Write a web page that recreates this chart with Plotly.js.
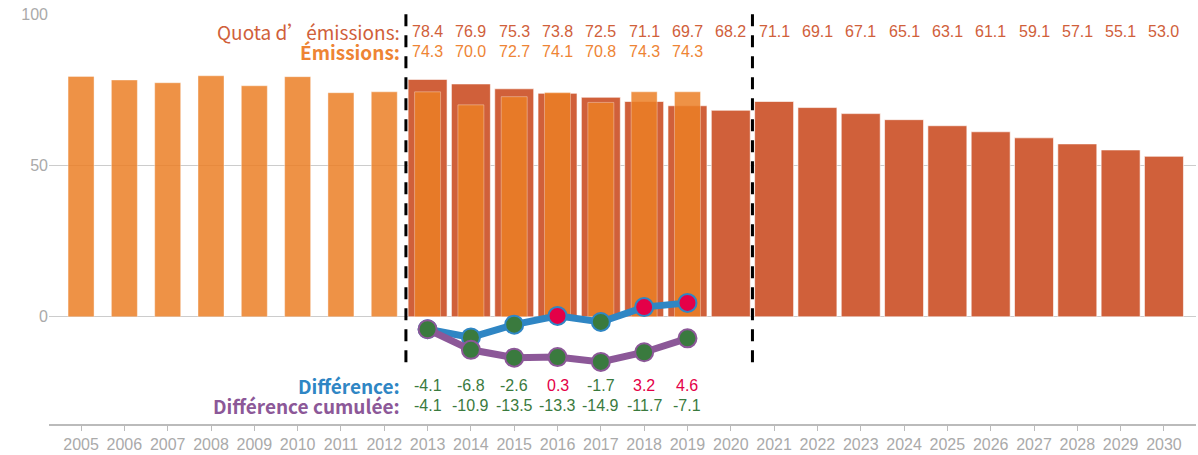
<!DOCTYPE html>
<html>
<head>
<meta charset="utf-8">
<script src="https://cdn.plot.ly/plotly-3.0.1.min.js"></script>
<style>html,body{margin:0;padding:0;background:#fff}#chart{width:1198px;height:455px}</style>
</head>
<body>
<div id="chart"></div>
<script>
// ---- data ----
const years = [2005,2006,2007,2008,2009,2010,2011,2012,2013,2014,2015,2016,2017,2018,2019,2020,2021,2022,2023,2024,2025,2026,2027,2028,2029,2030];
const emissionYears = [2005,2006,2007,2008,2009,2010,2011,2012,2013,2014,2015,2016,2017,2018,2019];
const emissions = [79.4,78.2,77.3,79.6,76.3,79.3,74.0,74.3,74.3,70.0,72.7,74.1,70.8,74.3,74.3];
const quotaYears = [2013,2014,2015,2016,2017,2018,2019,2020,2021,2022,2023,2024,2025,2026,2027,2028,2029,2030];
const quota = [78.4,76.9,75.3,73.8,72.5,71.1,69.7,68.2,71.1,69.1,67.1,65.1,63.1,61.1,59.1,57.1,55.1,53.0];
const diffYears = [2013,2014,2015,2016,2017,2018,2019];
const difference = [-4.1,-6.8,-2.6,0.3,-1.7,3.2,4.6];
const cumulative = [-4.1,-10.9,-13.5,-13.3,-14.9,-11.7,-7.1];
const labels = {quota:"Quota d’émissions:", emissions:"Émissions:", diff:"Différence:", cum:"Différence cumulée:"};
const periodBounds = [2012.5, 2020.5];

// ---- styles ----
const cQuota = "rgb(208,96,58)";
const cEmis = "rgb(236,127,38)";
const cEmisText = "rgb(238,132,52)";
const cBlue = "rgb(47,134,196)";
const cPurple = "rgb(140,88,152)";
const cGreen = "rgb(58,122,62)";
const cRed = "rgb(228,0,72)";
const numFont = "Liberation Sans, Arial, sans-serif";
const lblFont = "Noto Sans CJK SC, Noto Sans, sans-serif";

const traces = [
  {type:"bar", x:quotaYears, y:quota, width:0.9, marker:{color:cQuota, line:{color:"rgba(255,255,255,0.6)", width:1}}, hoverinfo:"x+y"},
  {type:"bar", x:emissionYears, y:emissions, width:0.6, opacity:0.85, marker:{color:cEmis, line:{color:"rgba(255,255,255,0.4)", width:1}}, hoverinfo:"x+y"},
  {type:"scatter", mode:"lines+markers", x:diffYears, y:difference, line:{color:cBlue, width:7},
   marker:{size:18, color:difference.map(v => v < 0 ? cGreen : cRed), line:{color:cBlue, width:2}}},
  {type:"scatter", mode:"lines+markers", x:diffYears, y:cumulative, line:{color:cPurple, width:7},
   marker:{size:18, color:cumulative.map(v => v < 0 ? cGreen : cRed), line:{color:cPurple, width:2}}}
];

const yQuota = 94.1, yEmis = 87.5, yDiff = -22.6, yCum = -29.4;
const annotations = [];
function lbl(text, y, color, bold){
  annotations.push({x:2012.4, y:y, xref:"x", yref:"y", xanchor:"right", yanchor:"middle", showarrow:false,
    text: bold ? "<b>"+text+"</b>" : text, font:{family:lblFont, size:19, color:color}});
}
lbl(labels.quota, yQuota, cQuota, false);
lbl(labels.emissions, yEmis, cEmisText, true);
lbl(labels.diff, yDiff, cBlue, true);
lbl(labels.cum, yCum, cPurple, true);
function val(x, y, v, color){
  annotations.push({x:x, y:y, xref:"x", yref:"y", xanchor:"center", yanchor:"middle", showarrow:false,
    text: v.toFixed(1), font:{family:numFont, size:16, color:color}});
}
quotaYears.forEach((yr,i) => val(yr, yQuota, quota[i], cQuota));
emissionYears.forEach((yr,i) => { if (yr >= 2013) val(yr, yEmis, emissions[i], cEmisText); });
diffYears.forEach((yr,i) => val(yr, yDiff, difference[i], difference[i] < 0 ? cGreen : cRed));
diffYears.forEach((yr,i) => val(yr, yCum, cumulative[i], cumulative[i] < 0 ? cGreen : cRed));

const shapes = periodBounds.map(x => ({type:"line", xref:"x", yref:"y", x0:x, x1:x, y0:-15, y1:100, layer:"above",
  line:{color:"#000", width:3, dash:"12px,9px"}}));

const layout = {
  width:1198, height:455, margin:{l:49, r:2, t:14, b:31},
  paper_bgcolor:"#fff", plot_bgcolor:"#fff",
  barmode:"overlay", showlegend:false,
  xaxis:{range:[2004.26, 2030.74], tickvals:years, ticktext:years.map(String), showgrid:false, zeroline:false,
    showline:true, linecolor:"#bbb", linewidth:2, ticks:"outside", ticklen:5, tickcolor:"#bbb",
    tickfont:{family:numFont, size:16, color:"#aaa"}},
  yaxis:{range:[-35.4, 100], tickvals:[0,50,100], showgrid:true, gridcolor:"#ccc", gridwidth:1,
    zeroline:true, zerolinecolor:"#ccc", zerolinewidth:1, showline:false, ticks:"",
    tickfont:{family:numFont, size:16, color:"#aaa"}},
  annotations: annotations, shapes: shapes
};
Plotly.newPlot("chart", traces, layout, {displayModeBar:false, staticPlot:true});
</script>
</body>
</html>
